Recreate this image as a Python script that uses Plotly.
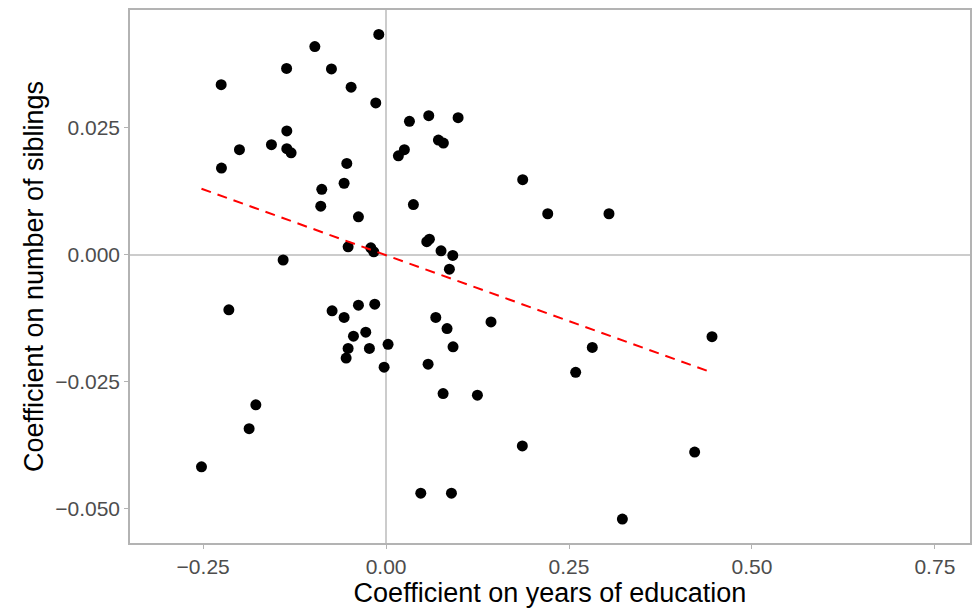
import numpy as np
import plotly.graph_objects as go

# coefficient estimates
educ = [-0.0100, -0.0974, -0.1360, -0.0747, -0.2254, -0.0478, -0.0141, -0.1357,
        -0.1567, -0.2004, -0.1357, -0.1298, -0.2250, -0.0537, -0.0574, -0.0879,
        -0.0893, -0.0378, -0.0519, -0.0209, -0.0168, -0.1407, 0.0319, 0.0583,
        0.0984, 0.0715, 0.0783, 0.0250, 0.0168, 0.1867, 0.0373, 0.2209,
        0.3046, 0.0556, 0.0592, 0.0751, 0.0911, 0.0865, -0.0155, 0.0679,
        0.0833, 0.1434, 0.0915, 0.0027, -0.0027, 0.0574, 0.0779, 0.1248,
        0.1862, 0.2818, 0.2591, 0.4454, 0.4217, 0.0474, 0.0893, 0.3229,
        -0.2149, -0.0738, -0.0574, -0.0378, -0.0446, -0.0278, -0.0519, -0.0228,
        -0.0546, -0.1780, -0.1872, -0.2523]
sibs = [0.0434, 0.0410, 0.0367, 0.0366, 0.0335, 0.0330, 0.0299, 0.0244,
        0.0217, 0.0207, 0.0209, 0.0201, 0.0171, 0.0180, 0.0141, 0.0129,
        0.0096, 0.0075, 0.0016, 0.0014, 0.0006, -0.0010, 0.0263, 0.0274,
        0.0270, 0.0226, 0.0220, 0.0207, 0.0195, 0.0148, 0.0099, 0.0081,
        0.0081, 0.0026, 0.0031, 0.0008, -0.0001, -0.0028, -0.0097, -0.0123,
        -0.0145, -0.0132, -0.0181, -0.0176, -0.0221, -0.0215, -0.0273, -0.0276,
        -0.0376, -0.0182, -0.0231, -0.0161, -0.0388, -0.0469, -0.0469, -0.0520,
        -0.0108, -0.0110, -0.0123, -0.0099, -0.0160, -0.0152, -0.0184, -0.0184,
        -0.0203, -0.0295, -0.0342, -0.0417]

x_ticks = [-0.25, 0.0, 0.25, 0.5, 0.75]
x_labels = ['\u22120.25', '0.00', '0.25', '0.50', '0.75']
y_ticks = [-0.05, -0.025, 0.0, 0.025]
y_labels = ['\u22120.050', '\u22120.025', '0.000', '0.025']

# linear fit
slope, intercept = np.polyfit(educ, sibs, 1)
fx = np.array([min(educ), max(educ)])
fy = intercept + slope * fx

fig = go.Figure()
fig.add_trace(go.Scatter(x=educ, y=sibs, mode='markers',
                         marker=dict(color='black', size=11), showlegend=False))
fig.add_trace(go.Scatter(x=fx, y=fy, mode='lines',
                         line=dict(color='red', width=2, dash='10px,7px'),
                         showlegend=False))

axis_style = dict(showgrid=False, zeroline=True, zerolinecolor='#cccccc', zerolinewidth=2,
                  showline=True, linecolor='#b3b3b3', linewidth=1.5, mirror=True,
                  ticks='outside', ticklen=4, tickcolor='#b3b3b3', automargin=False,
                  tickfont=dict(size=21, color='#4d4d4d'))

fig.update_xaxes(range=[-0.35, 0.798], tickvals=x_ticks, ticktext=x_labels,
                 title=dict(text='Coefficient on years of education',
                            font=dict(size=27, color='black'), standoff=4),
                 **axis_style)
fig.update_yaxes(range=[-0.0567, 0.0482], tickvals=y_ticks, ticktext=y_labels,
                 title=dict(text='Coefficient on number of siblings',
                            font=dict(size=27, color='black'), standoff=4),
                 **axis_style)

fig.update_layout(width=976, height=609,
                  margin=dict(l=130, r=6, t=10, b=66),
                  plot_bgcolor='white', paper_bgcolor='white',
                  font=dict(family='Liberation Sans, Arial, sans-serif'))

fig.write_html("out.html", config={'displayModeBar': False},
               post_script="document.body.style.margin = '0';")
